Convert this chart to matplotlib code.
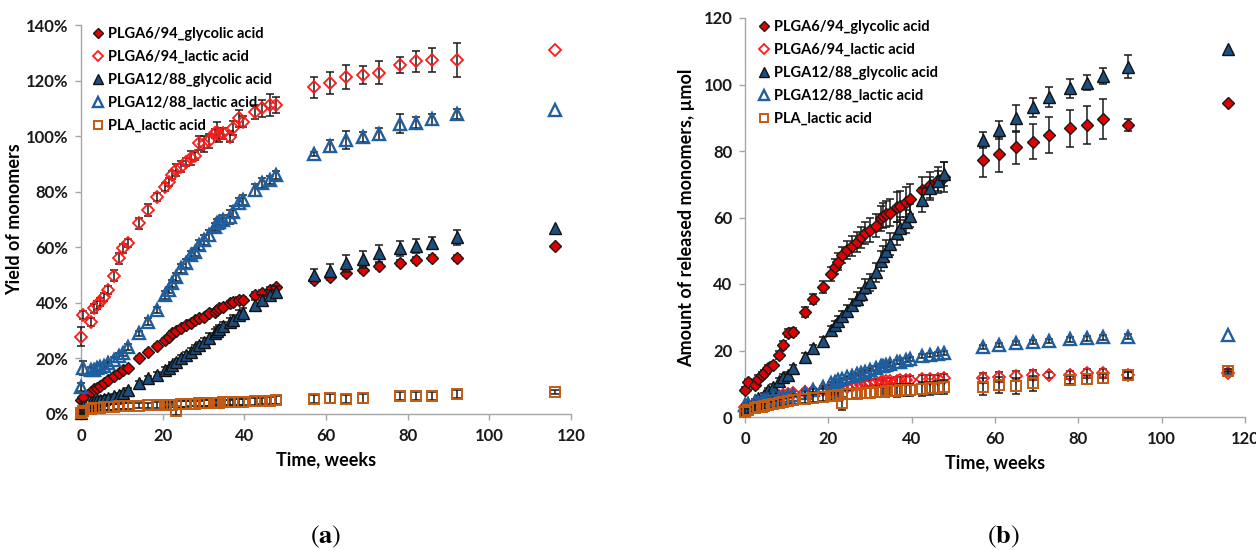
import numpy as np
import matplotlib
matplotlib.use("Agg")
import matplotlib.pyplot as plt
from matplotlib.lines import Line2D
from matplotlib.ticker import FuncFormatter

nan = np.nan

# sampling times, weeks (same for every series)
weeks = [0, 0.6, 2.4, 3.2, 4.0, 4.6, 5.6, 6.7, 8.1, 9.2,
         10.2, 11.5, 14.3, 16.3, 18.7, 20.6, 21.5, 22.4, 23.3, 24.5,
         25.7, 26.9, 27.8, 28.8, 30.0, 31.4, 32.7, 33.2, 33.9, 34.7,
         36.4, 37.2, 38.7, 39.6, 42.5, 44.4, 46.2, 47.8,
         57, 61, 65, 69, 73, 78, 82, 86, 92, 116]

labels = ["PLGA6/94_glycolic acid", "PLGA6/94_lactic acid",
          "PLGA12/88_glycolic acid", "PLGA12/88_lactic acid", "PLA_lactic acid"]

# (a) yield of monomers, %
yield_gly_6_94 = [5.0, 6.0, 8.0, 8.9, 9.5, 10.1, 11.2, 12.3, 13.8, 14.8,
                  15.8, 16.6, 20.0, 22.4, 24.5, 26.6, 27.8, 29.0, 29.9, 30.8,
                  32.0, 32.9, 33.8, 34.4, 35.0, 36.2, 36.8, 37.4, 38.0, 38.6,
                  39.8, 40.4, 41.0, 41.0, 42.8, 43.6, 44.6, 45.6,
                  48.2, 49.4, 50.8, 51.8, 53.3, 54.4, 55.4, 56.2, 56.2, 60.5]
yield_lac_6_94 = [27.8, 35.6, 33.2, 38.0, 39.2, 40.4, 42.2, 44.6, 49.7, 56.0,
                  59.6, 61.6, 68.6, 73.4, 78.2, 81.8, 83.6, 86.0, 87.8, 89.0,
                  90.8, 92.0, 92.8, 97.6, 97.2, 98.3, 101.0, 101.6, 100.4, 101.0,
                  99.8, 102.8, 106.4, 105.2, 108.8, 110.0, 111.2, 111.2,
                  117.6, 119.2, 121.2, 122.0, 122.8, 125.6, 127.0, 127.4, 127.4, 131.0]
yield_gly_12_88 = [0.5, 3.0, 4.4, 4.7, 5.0, 5.2, 5.5, 5.9, 6.4, 6.9,
                   7.4, 8.6, 11.0, 12.8, 14.0, 15.8, 16.4, 17.6, 18.8, 20.0,
                   21.2, 22.4, 23.6, 24.8, 26.0, 27.5, 29.0, 29.8, 30.6, 31.5,
                   33.0, 34.0, 35.6, 36.2, 39.2, 41.0, 42.8, 44.0,
                   50.0, 51.6, 54.2, 55.7, 57.8, 59.6, 60.5, 61.6, 63.6, 66.8]
yield_lac_12_88 = [9.8, 16.4, 15.8, 16.0, 16.4, 16.8, 17.4, 18.2, 19.6, 20.8,
                   21.8, 24.2, 29.0, 33.2, 37.4, 42.8, 44.6, 47.0, 49.4, 52.4,
                   54.2, 57.2, 58.4, 60.8, 62.6, 64.4, 67.4, 68.6, 69.2, 69.8,
                   71.0, 72.8, 75.8, 77.0, 80.6, 83.2, 84.2, 86.0,
                   93.6, 96.4, 98.6, 99.8, 100.8, 104.4, 104.8, 106.0, 108.0, 109.4]
yield_lac_pla = [0.5, 1.0, 1.8, 2.0, 2.2, 2.3, 2.4, 2.5, 2.6, 2.7,
                 2.8, 2.9, 3.0, 3.1, 3.2, 3.3, 3.4, 3.4, 1.0, 3.5,
                 3.6, 3.7, 3.7, 3.8, 3.9, 4.0, 4.0, 4.1, 4.1, 4.2,
                 4.2, 4.3, 4.3, 4.4, 4.6, 4.7, 4.8, 5.0,
                 5.3, 5.6, 5.3, 5.6, nan, 6.5, 6.5, 6.5, 7.1, 8.0]

err_a_gly_6_94 = [0.8, 0.6, 0.6, 0.6, 0.6, 0.6, 0.6, 0.6, 0.6, 0.6,
                  0.6, 0.6, 0.7, 0.7, 0.7, 0.7, 0.7, 0.7, 0.7, 0.8,
                  0.8, 0.8, 0.8, 0.8, 0.8, 0.8, 0.9, 0.9, 0.9, 0.9,
                  0.9, 0.9, 1.0, 1.0, 1.0, 1.0, 1.0, 1.0,
                  1.2, 1.2, 1.0, 1.2, 1.2, 1.2, 1.2, 1.2, 1.2, nan]
err_a_lac_6_94 = [3.5, 1.5, 1.5, 1.5, 1.5, 1.5, 1.5, 1.5, 2.0, 2.0,
                  1.5, 1.5, 2.0, 2.0, 1.5, 1.5, 1.5, 1.5, 2.0, 2.0,
                  1.5, 2.5, 1.5, 2.5, 3.0, 2.5, 1.5, 3.5, 2.5, 2.0,
                  2.0, 2.5, 3.0, 2.0, 2.5, 3.0, 4.0, 3.0,
                  3.8, 4.0, 4.3, 3.2, 4.1, 2.8, 3.8, 4.4, 6.2, nan]
err_a_gly_12_88 = [0.5, 0.8, 0.8, 0.8, 0.8, 0.8, 0.8, 0.8, 0.8, 0.8,
                   0.9, 0.9, 1.0, 1.0, 1.0, 1.0, 1.0, 1.0, 1.0, 1.2,
                   1.2, 1.2, 1.2, 1.2, 1.2, 1.5, 1.5, 1.5, 1.5, 1.5,
                   1.5, 1.5, 1.8, 1.8, 2.0, 2.0, 2.0, 2.0,
                   2.1, 2.4, 3.0, 3.0, 3.0, 2.6, 2.4, 2.1, 2.7, nan]
err_a_lac_12_88 = [1.5, 2.5, 1.0, 1.0, 1.0, 1.0, 1.0, 1.0, 1.0, 1.0,
                   1.0, 1.0, 1.0, 1.2, 1.0, 1.5, 1.2, 1.2, 1.5, 1.5,
                   1.5, 1.5, 1.5, 1.8, 1.8, 2.0, 1.5, 1.5, 1.5, 1.8,
                   2.5, 2.0, 2.0, 1.8, 2.0, 1.8, 1.5, 1.5,
                   0.8, 2.2, 3.2, 1.8, 2.1, 3.4, 2.0, 2.1, 1.9, nan]
err_a_lac_pla = [1.0, 1.0, 1.0, 1.0, 1.0, 1.0, 1.0, 1.0, 1.0, 1.0,
                 1.0, 1.0, 1.0, 1.0, 1.0, 1.0, 1.0, 1.0, 1.5, 1.0,
                 1.0, 1.0, 1.0, 1.0, 1.0, 1.0, 1.0, 1.0, 1.0, 1.0,
                 1.0, 1.0, 1.0, 1.0, 1.2, 1.2, 1.2, 1.5,
                 1.5, 1.5, 1.5, 1.5, nan, 1.5, 1.5, 1.5, 1.5, 0.8]

# (b) amount of released monomers, umol
amt_gly_6_94 = [8.1, 10.5, 9.5, 11.5, 12.5, 13.1, 14.6, 15.6, 18.6, 21.7,
                25.2, 25.7, 31.7, 35.5, 39.2, 43.0, 45.2, 46.7, 48.7, 50.2,
                51.4, 52.7, 54.0, 55.2, 56.2, 57.5, 59.8, 60.5, 61.0, 61.5,
                63.1, 63.6, 64.8, 65.5, 68.3, 69.8, 71.3, 72.1,
                77.3, 79.0, 81.1, 82.8, 84.8, 86.8, 87.8, 89.5, 87.8, 94.5]
amt_lac_6_94 = [3.0, 3.5, 4.0, 4.3, 4.6, 5.0, 5.3, 5.7, 6.2, 6.6,
                6.9, 7.2, 7.6, 7.9, 8.1, 8.3, 8.5, 8.7, 8.9, 9.1,
                9.3, 9.5, 9.7, 9.9, 10.2, 10.4, 10.5, 10.6, 10.7, 10.8,
                10.9, 11.0, 11.1, 11.2, 11.3, 11.4, 11.5, 11.6,
                11.6, 12.1, 12.3, 12.6, 12.6, 12.6, 13.1, 13.1, 12.6, 13.3]
amt_gly_12_88 = [2.5, 3.6, 5.0, 5.6, 5.8, 6.5, 8.1, 9.1, 10.8, 12.0,
                 12.6, 14.6, 18.1, 20.7, 23.0, 26.2, 27.7, 29.0, 30.4, 32.0,
                 33.7, 35.5, 36.9, 39.2, 40.5, 43.5, 47.0, 48.5, 50.0, 52.0,
                 55.2, 56.7, 58.7, 60.5, 65.3, 68.8, 71.0, 73.1,
                 83.3, 86.3, 89.8, 93.1, 96.3, 98.8, 100.5, 102.6, 105.4, 110.6]
amt_lac_12_88 = [3.5, 4.0, 4.4, 4.6, 4.8, 5.0, 5.2, 5.5, 5.8, 6.1,
                 6.3, 6.6, 7.3, 8.0, 8.9, 10.1, 10.6, 11.0, 11.4, 11.9,
                 12.3, 12.8, 13.2, 13.6, 14.2, 14.7, 15.2, 15.4, 15.6, 15.9,
                 16.4, 16.6, 17.0, 17.4, 18.2, 18.6, 19.0, 19.3,
                 21.1, 21.7, 22.2, 22.6, 22.9, 23.4, 23.7, 24.0, 24.2, 24.7]
amt_lac_pla = [1.5, 2.0, 2.6, 2.9, 3.1, 3.3, 3.5, 3.8, 4.1, 4.4,
               4.7, 5.0, 5.4, 5.7, 6.0, 6.3, 6.4, 6.5, 4.1, 6.8,
               6.9, 7.0, 7.1, 7.2, 7.3, 7.4, 7.5, 7.6, 7.7, 7.8,
               7.9, 8.0, 8.1, 8.2, 8.4, 8.6, 8.8, 9.0,
               9.1, 9.6, 9.3, 10.1, nan, 11.1, 11.3, 11.6, 12.6, 13.9]

err_b_gly_6_94 = [0.8, 1.0, 1.0, 1.0, 1.0, 1.0, 1.0, 1.0, 1.2, 1.3,
                  1.2, 1.2, 1.5, 1.5, 1.8, 2.0, 2.2, 2.5, 2.5, 2.8,
                  3.0, 3.0, 3.2, 3.3, 3.5, 3.5, 3.8, 3.8, 4.0, 4.0,
                  4.5, 4.5, 4.5, 4.5, 4.0, 4.0, 4.0, 4.5,
                  5.0, 5.3, 5.0, 5.3, 5.5, 5.5, 5.7, 6.0, 1.9, nan]
err_b_lac_6_94 = [0.5, 0.5, 0.5, 0.5, 0.5, 0.5, 0.6, 0.6, 0.6, 0.6,
                  0.6, 0.6, 0.7, 0.7, 0.7, 0.7, 0.8, 0.8, 0.8, 0.8,
                  0.8, 0.9, 0.9, 0.9, 0.9, 1.0, 1.0, 1.0, 1.0, 1.0,
                  1.0, 1.0, 1.2, 1.2, 1.2, 1.2, 1.2, 1.2,
                  1.5, 1.5, 1.5, 1.5, 0.8, 1.2, 1.3, 1.3, 1.5, 0.5]
err_b_gly_12_88 = [0.5, 0.5, 0.5, 0.6, 0.6, 0.6, 0.7, 0.7, 0.8, 0.8,
                   0.9, 0.9, 1.0, 1.0, 1.2, 1.2, 1.3, 1.4, 1.5, 1.6,
                   1.8, 2.0, 2.0, 2.2, 2.5, 2.8, 3.0, 3.0, 3.2, 3.2,
                   3.5, 3.5, 3.5, 3.5, 3.5, 3.5, 3.0, 3.5,
                   2.5, 2.7, 4.0, 2.8, 3.0, 2.9, 2.3, 2.5, 3.4, nan]
err_b_lac_12_88 = [0.3, 0.3, 0.3, 0.3, 0.3, 0.3, 0.3, 0.3, 0.3, 0.3,
                   0.3, 0.3, 0.4, 0.4, 0.4, 0.4, 0.4, 0.4, 0.4, 0.4,
                   0.5, 0.5, 0.5, 0.5, 0.5, 0.5, 0.5, 0.5, 0.5, 0.5,
                   0.6, 0.6, 0.6, 0.6, 0.6, 0.6, 0.6, 0.6,
                   0.6, 0.6, 0.6, 0.6, 0.6, 0.7, 0.7, 0.7, 0.7, nan]
err_b_lac_pla = [1.0, 1.0, 1.0, 1.0, 1.0, 1.0, 1.0, 1.0, 1.2, 1.2,
                 1.2, 1.2, 1.2, 1.2, 1.3, 1.3, 1.3, 1.3, 2.0, 1.4,
                 1.4, 1.4, 1.5, 1.5, 1.5, 1.5, 1.6, 1.6, 1.6, 1.6,
                 1.8, 1.8, 1.8, 1.8, 2.0, 2.0, 2.0, 2.0,
                 2.5, 2.5, 2.5, 2.3, nan, 1.3, 1.3, 1.3, 1.0, 0.5]

plt.rcParams['font.family'] = ['Lato', 'DejaVu Sans']
plt.rcParams['mathtext.fontset'] = 'stix'

styles = [
    dict(marker='D', ms=6.5, mfc='#E00000', mec='#1a1a1a', mew=1.0),
    dict(marker='D', ms=6.5, mfc='none', mec='#FF1A1A', mew=1.3),
    dict(marker='^', ms=8.8, mfc='#1B4F80', mec='#111111', mew=1.0),
    dict(marker='^', ms=8.8, mfc='none', mec='#1F5F9F', mew=1.7),
    dict(marker='s', ms=7.8, mfc='none', mec='#C55A11', mew=1.4),
]
axis_grey = '#A6A6A6'


def draw_panel(ax, series, errors, ylim, yticks, fmt, leg_anchor):
    for i, (y, e, st) in enumerate(zip(series, errors, styles)):
        ax.errorbar(weeks, y, yerr=e, fmt='none', ecolor='#1a1a1a', elinewidth=1.1,
                    capsize=2.8, capthick=1.1, zorder=2 + 2 * i, clip_on=False)
        ax.plot(weeks, y, linestyle='none', zorder=3 + 2 * i, clip_on=False, **st)
    ax.set_xlim(0, 120)
    ax.set_ylim(*ylim)
    ax.set_xticks([0, 20, 40, 60, 80, 100, 120])
    ax.set_yticks(yticks)
    ax.yaxis.set_major_formatter(FuncFormatter(fmt))
    for s in ['top', 'right']:
        ax.spines[s].set_visible(False)
    for s in ['left', 'bottom']:
        ax.spines[s].set_color(axis_grey)
        ax.spines[s].set_linewidth(1.0)
    ax.tick_params(axis='both', colors=axis_grey, length=4, width=1.0,
                   labelcolor='#1a1a1a', labelsize=12)
    ax.tick_params(axis='y', pad=5)
    ax.tick_params(axis='x', pad=6)
    for lab in ax.get_xticklabels() + ax.get_yticklabels():
        lab.set_fontweight('bold')
    ax.set_xlabel('Time, weeks', fontsize=13, fontweight='bold', labelpad=5)

    handles = []
    for st in styles:
        h = dict(st)
        h['ms'] = st['ms'] * 0.75
        handles.append(Line2D([], [], linestyle='none', **h))
    fig.legend(handles, labels, loc='upper left', bbox_to_anchor=leg_anchor,
               frameon=False, borderpad=0, borderaxespad=0, handlelength=0.7,
               handletextpad=0.35, labelspacing=0.62, numpoints=1,
               prop=dict(size=10.5, weight='bold'))


fig = plt.figure(figsize=(12.56, 5.5), dpi=100)

ax_a = fig.add_axes([81 / 1256, 1 - 414 / 550, 490 / 1256, 389 / 550])
draw_panel(ax_a,
           [yield_gly_6_94, yield_lac_6_94, yield_gly_12_88, yield_lac_12_88, yield_lac_pla],
           [err_a_gly_6_94, err_a_lac_6_94, err_a_gly_12_88, err_a_lac_12_88, err_a_lac_pla],
           (0, 140), [0, 20, 40, 60, 80, 100, 120, 140],
           lambda v, p: f'{v:.0f}%', (93 / 1256, 1 - 27 / 550))
ax_a.set_ylabel('Yield of monomers', fontsize=13, fontweight='bold', labelpad=2)

ax_b = fig.add_axes([745 / 1256, 1 - 417 / 550, 500 / 1256, 399 / 550])
draw_panel(ax_b,
           [amt_gly_6_94, amt_lac_6_94, amt_gly_12_88, amt_lac_12_88, amt_lac_pla],
           [err_b_gly_6_94, err_b_lac_6_94, err_b_gly_12_88, err_b_lac_12_88, err_b_lac_pla],
           (0, 120), [0, 20, 40, 60, 80, 100, 120],
           lambda v, p: f'{v:.0f}', (759 / 1256, 1 - 20 / 550))
ax_b.set_ylabel('Amount of released monomers, µmol', fontsize=13, fontweight='bold', labelpad=6)

fig.text(326 / 1256, 1 - 537 / 550, r'($\mathbf{a}$)', ha='center', va='center',
         fontsize=19, family='STIXGeneral')
fig.text(1003 / 1256, 1 - 537 / 550, r'($\mathbf{b}$)', ha='center', va='center',
         fontsize=19, family='STIXGeneral')

fig.savefig('out.png', dpi=100)
